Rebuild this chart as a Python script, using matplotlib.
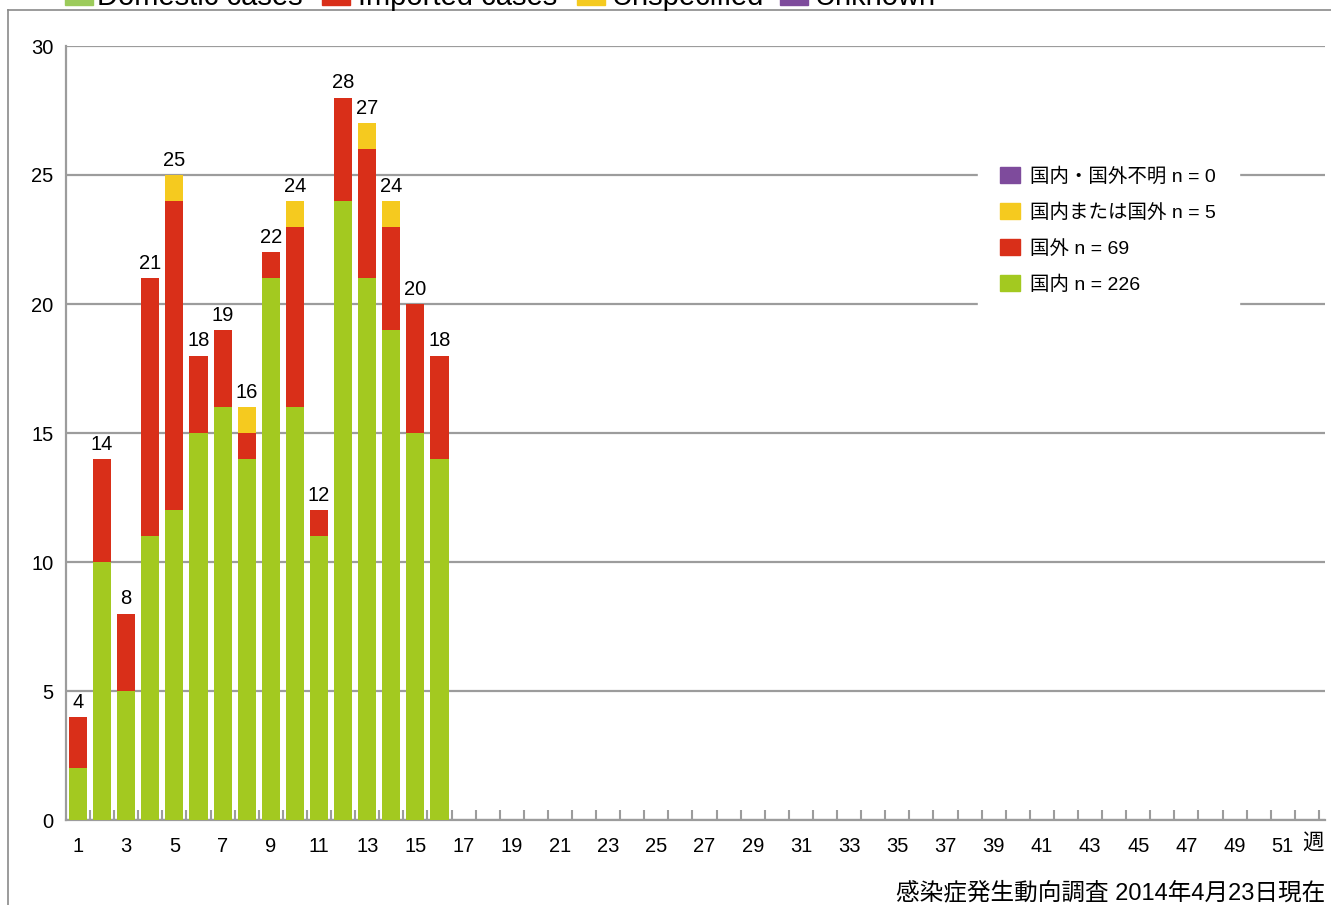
import matplotlib.pyplot as plt
from matplotlib.patches import Patch, Rectangle
from matplotlib.lines import Line2D
import numpy as np

plt.rcParams['font.family'] = ['Liberation Sans', 'Noto Sans CJK JP', 'DejaVu Sans']

# データ（週別報告数）
weeks = np.arange(1, 17)
domestic = [2, 10, 5, 11, 12, 15, 16, 14, 21, 16, 11, 24, 21, 19, 15, 14]
imported = [2, 4, 3, 10, 12, 3, 3, 1, 1, 7, 1, 4, 5, 4, 5, 4]
unspecified = [0, 0, 0, 0, 1, 0, 0, 1, 0, 1, 0, 0, 1, 1, 0, 0]
unknown = [0] * 16

legend_labels = ['国内・国外不明 n = 0', '国内または国外 n = 5', '国外 n = 69', '国内 n = 226']
top_labels = ['Domestic cases', 'Imported cases', 'Unspecified', 'Unknown']
yticks = [0, 5, 10, 15, 20, 25, 30]
xtick_labels = list(range(1, 52, 2))
footer = '感染症発生動向調査 2014年4月23日現在'

c_green = '#A3C920'
c_red = '#D92F19'
c_yellow = '#F5CA1F'
c_purple = '#7E4B9C'
c_grid = '#9C9C9C'

W, H = 1331, 905
fig = plt.figure(figsize=(W / 100, H / 100), dpi=100)
ax = fig.add_axes([66 / W, 1 - 820 / H, (1325 - 66) / W, (820 - 46) / H])

bw = 0.75
dom = np.array(domestic)
imp = np.array(imported)
uns = np.array(unspecified)
unk = np.array(unknown)
ax.bar(weeks, dom, width=bw, color=c_green, zorder=3)
ax.bar(weeks, imp, width=bw, bottom=dom, color=c_red, zorder=3)
ax.bar(weeks, uns, width=bw, bottom=dom + imp, color=c_yellow, zorder=3)
ax.bar(weeks, unk, width=bw, bottom=dom + imp + uns, color=c_purple, zorder=3)

totals = dom + imp + uns + unk
for w, t in zip(weeks, totals):
    ax.text(w, t + 0.2, str(t), ha='center', va='bottom', fontsize=14.5, zorder=4)

ax.set_xlim(0.5, 52.75)
ax.set_ylim(0, 30)
ax.set_yticks(yticks)
ax.set_xticks(xtick_labels)
ax.set_xticks(np.arange(1.5, 53, 1), minor=True)
ax.tick_params(axis='y', length=0, labelsize=14.5, pad=9)
ax.tick_params(axis='x', which='major', length=0, labelsize=14.5, pad=12)
ax.tick_params(axis='x', which='minor', direction='in', length=7, width=1.5, color=c_grid)
ax.yaxis.grid(True, color=c_grid, linewidth=1.6, zorder=1)
ax.set_axisbelow(True)
for s in ['top', 'right']:
    ax.spines[s].set_visible(False)
for s in ['left', 'bottom']:
    ax.spines[s].set_color(c_grid)
    ax.spines[s].set_linewidth(1.6)

ax.text(1313 / W, 1 - 843 / H, '週', transform=fig.transFigure,
        ha='center', va='center', fontsize=15.5)

handles = [Patch(color=c_purple), Patch(color=c_yellow), Patch(color=c_red), Patch(color=c_green)]
leg = ax.legend(handles, legend_labels, loc='upper left',
                bbox_to_anchor=(978 / W, 1 - 145 / H), bbox_transform=fig.transFigure,
                frameon=True, fancybox=False, edgecolor='white', framealpha=1,
                fontsize=14, handlelength=1.0, handleheight=0.9, handletextpad=0.55,
                labelspacing=0.88, borderpad=1.15, borderaxespad=0)
leg.set_zorder(5)

# 上部の凡例（切れている）
top_colors = ['#9CCB5B', c_red, c_yellow, c_purple]
sq_x = [65, 322, 577, 780]
tx_x = [97, 358, 612, 815]
for sx, tx, lab, col in zip(sq_x, tx_x, top_labels, top_colors):
    fig.patches.append(Rectangle((sx / W, 1 - 5 / H), 28 / W, 20 / H,
                                 transform=fig.transFigure, color=col))
    fig.text(tx / W, 1 - 5 / H, lab, fontsize=21, va='baseline', ha='left')

# 外枠
fig.add_artist(Line2D([8 / W, 1], [1 - 10 / H, 1 - 10 / H], color='#8A8A8A', linewidth=1.2))
fig.add_artist(Line2D([8 / W, 8 / W], [0, 1 - 10 / H], color='#8A8A8A', linewidth=1.2))

fig.text(1325 / W, 1 - 893 / H, footer, ha='right', va='center', fontsize=17)

fig.savefig('out.png', dpi=100)
